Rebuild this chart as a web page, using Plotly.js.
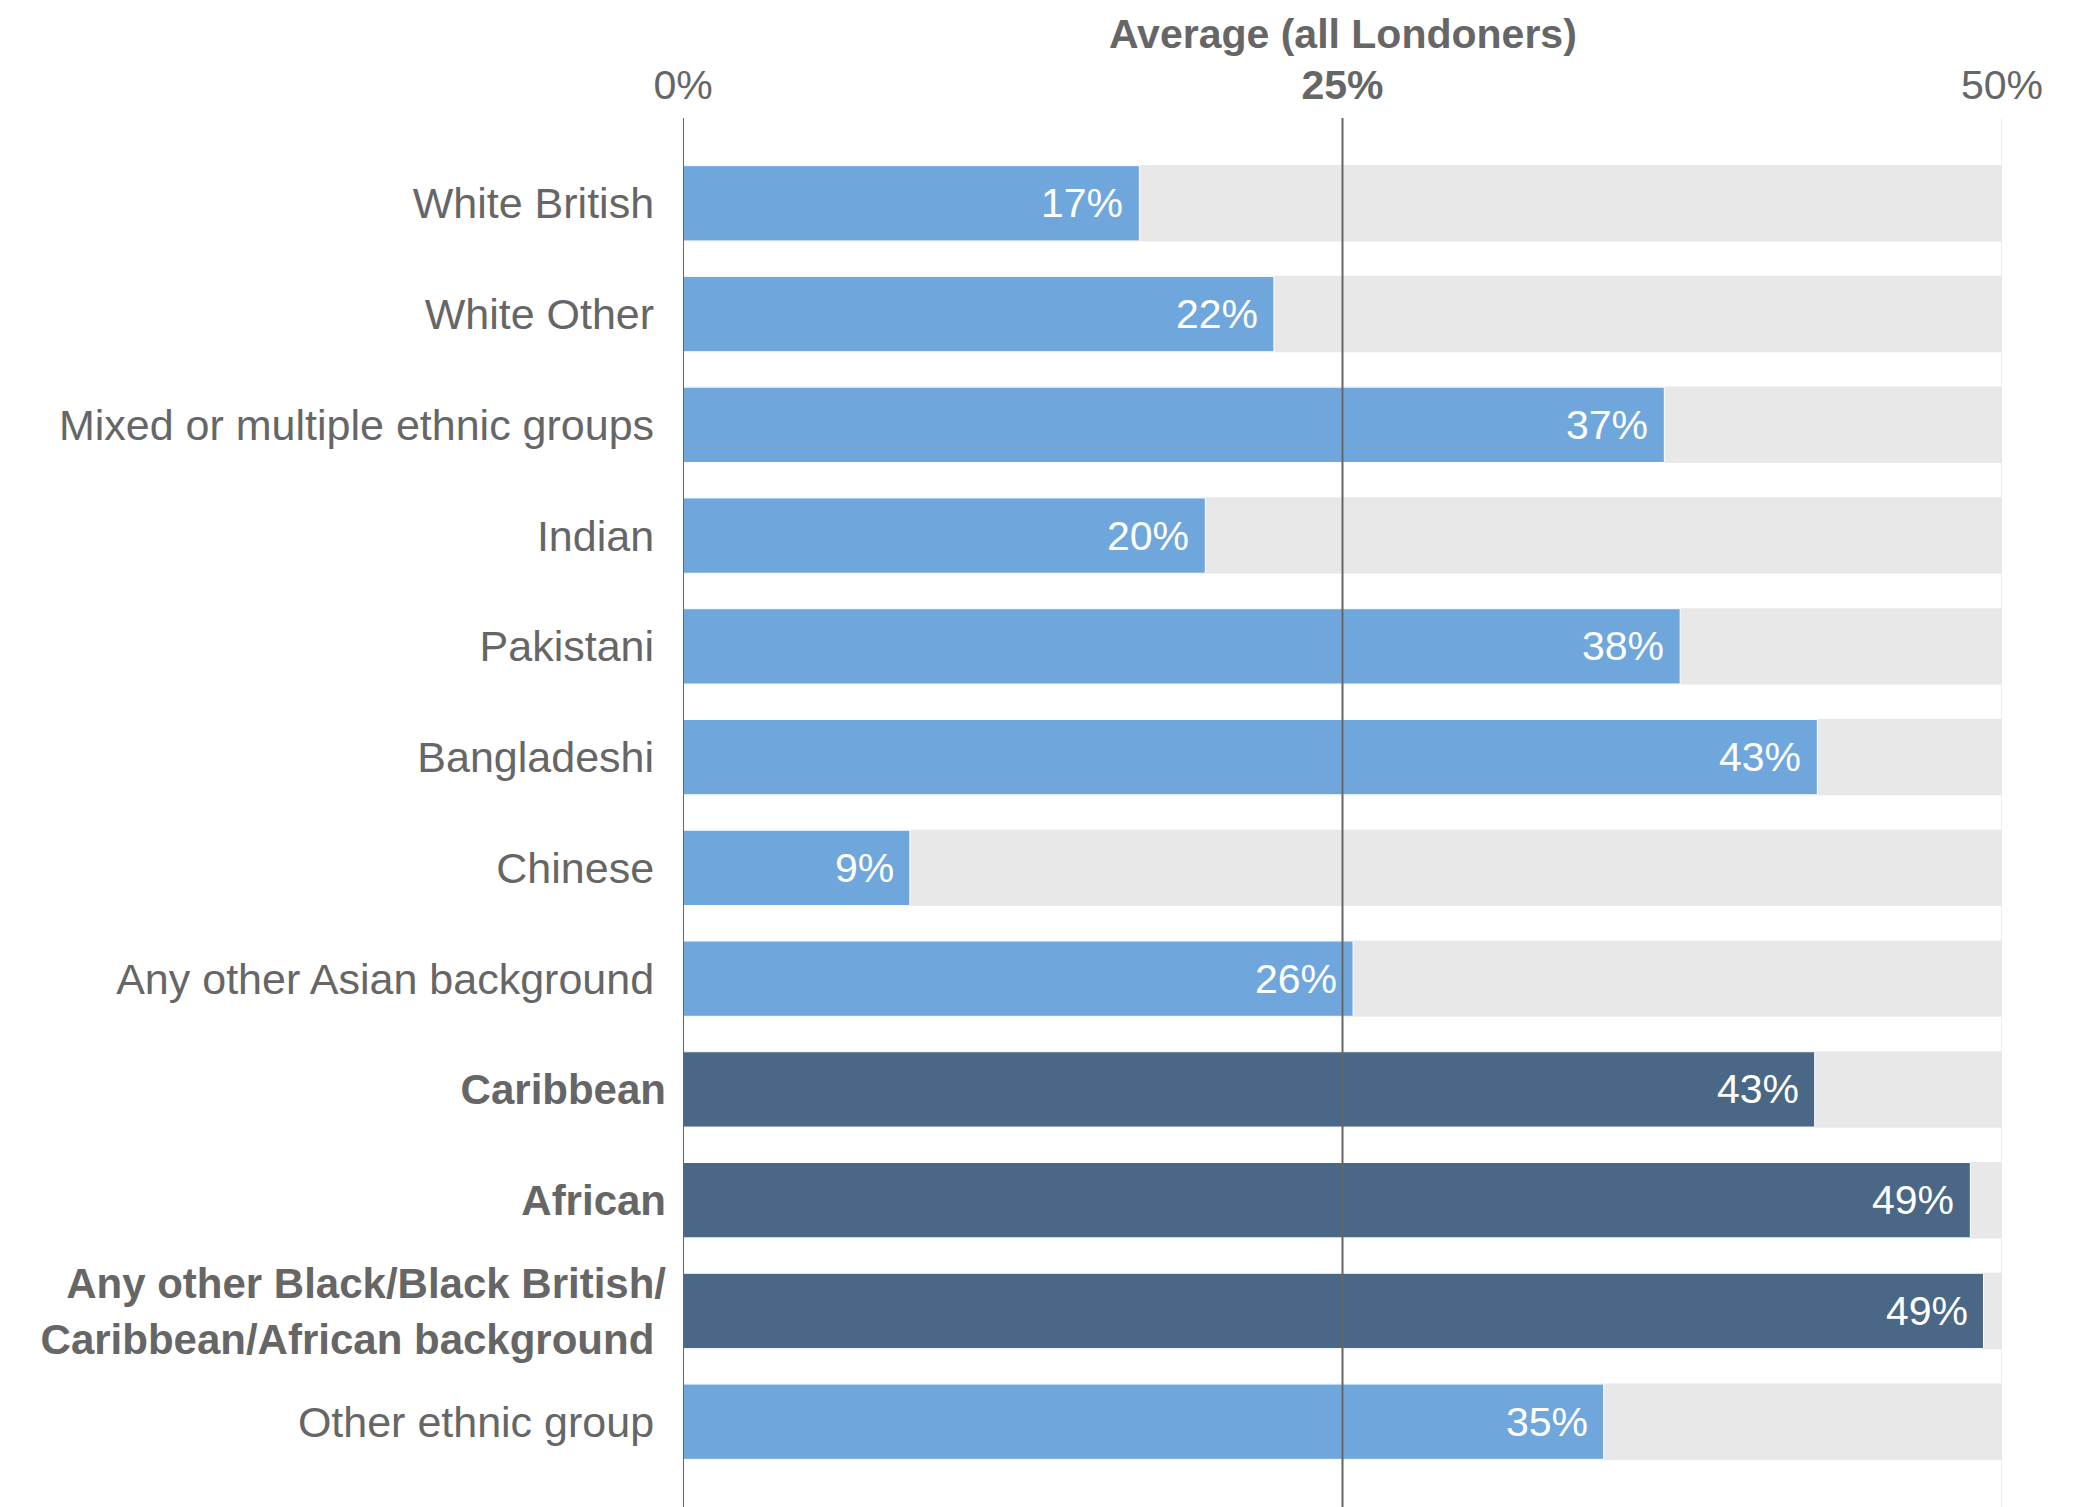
<!DOCTYPE html>
<html>
<head>
<meta charset="utf-8">
<script src="https://cdn.plot.ly/plotly-3.0.1.min.js"></script>
<style>html,body{margin:0;padding:0;background:#fff;}#chart{width:2100px;height:1507px;}</style>
</head>
<body>
<div id="chart"></div>
<script>
const categories = ["White British","White Other","Mixed or multiple ethnic groups","Indian","Pakistani","Bangladeshi","Chinese","Any other Asian background","Caribbean","African","Any other Black/Black British/Caribbean/African background","Other ethnic group"];
const tickLabels = ["White British","White Other","Mixed or multiple ethnic groups","Indian","Pakistani","Bangladeshi","Chinese","Any other Asian background","Caribbean","African","Any other Black/Black British/|Caribbean/African background","Other ethnic group"];
const values = [17.3,22.4,37.2,19.8,37.8,43.0,8.6,25.4,42.9,48.8,49.3,34.9];
const valueLabels = ["17%","22%","37%","20%","38%","43%","9%","26%","43%","49%","49%","35%"];
const highlighted = ["Caribbean","African","Any other Black/Black British/Caribbean/African background"];
const scaleMax = 50;
const average = 25;
const xTickVals = [0,25,50];
const xTickText = ["0%","25%","50%"];
const avgTitle = "Average (all Londoners)";

const FONT = "'Liberation Sans', Arial, sans-serif";
const TXT = "#666666";
const NB = "\u00a0";
const colors = categories.map(c => highlighted.includes(c) ? "#4a6785" : "#6fa7dd");

const tickText = categories.map((c, i) => {
  const lines = tickLabels[i].split("|");
  if (highlighted.includes(c)) {
    return lines.map((l, j) => '<span style="font-size:42px"><b>' + l + (j > 0 ? NB : "") + '</b></span>').join("<br>");
  }
  return lines.map(l => l + NB).join("<br>");
});
const xText = xTickVals.map((v, i) => v === average ? "<b>" + xTickText[i] + "</b>" : xTickText[i]);

const bg = {
  type: "bar", orientation: "h",
  y: categories, x: categories.map(() => scaleMax),
  marker: {color: "#e8e8e8"}, width: 0.69,
  hoverinfo: "skip", showlegend: false
};
const fg = {
  type: "bar", orientation: "h",
  y: categories, x: values,
  marker: {color: colors, line: {color: "#ffffff", width: 1}}, width: 0.68,
  showlegend: false
};

const annotations = categories.map((c, i) => ({
  x: values[i], y: c, xref: "x", yref: "y",
  text: valueLabels[i], showarrow: false,
  xanchor: "right", yanchor: "middle", xshift: -14, yshift: 0,
  font: {family: FONT, size: 41, color: "#ffffff"}
}));
annotations.push({
  x: average, y: 1, xref: "x", yref: "paper",
  text: "<b>" + avgTitle + "</b>", showarrow: false,
  xanchor: "center", yanchor: "middle", yshift: 84,
  font: {family: FONT, size: 41, color: TXT}
});

const shapes = [
  {type: "line", xref: "x", yref: "paper", x0: scaleMax, x1: scaleMax, y0: 0, y1: 1, line: {color: "#eeeeee", width: 2}, layer: "below"},
  {type: "line", xref: "x", yref: "paper", x0: 0, x1: 0, y0: 0, y1: 1, line: {color: "#666666", width: 2}, layer: "above"},
  {type: "line", xref: "x", yref: "paper", x0: average, x1: average, y0: 0, y1: 1, line: {color: "#666666", width: 2}, layer: "above"}
];

const layout = {
  width: 2100, height: 1507,
  margin: {l: 683, r: 98, t: 118, b: 0, pad: 0},
  paper_bgcolor: "#ffffff", plot_bgcolor: "#ffffff",
  barmode: "overlay",
  font: {family: FONT, color: TXT, size: 43},
  xaxis: {
    side: "top", range: [0, scaleMax], tickvals: xTickVals, ticktext: xText,
    showgrid: false, zeroline: false, showline: false, ticks: "",
    tickfont: {family: FONT, size: 41, color: TXT}, ticklabelstandoff: 10, fixedrange: true
  },
  yaxis: {
    type: "category", range: [11.77, -0.77],
    tickvals: categories, ticktext: tickText,
    showgrid: false, zeroline: false, showline: false, ticks: "",
    tickfont: {family: FONT, size: 43, color: TXT}, ticklabelstandoff: 16,
    fixedrange: true
  },
  shapes: shapes,
  annotations: annotations
};

Plotly.newPlot("chart", [bg, fg], layout, {displayModeBar: false, staticPlot: true});
</script>
</body>
</html>
